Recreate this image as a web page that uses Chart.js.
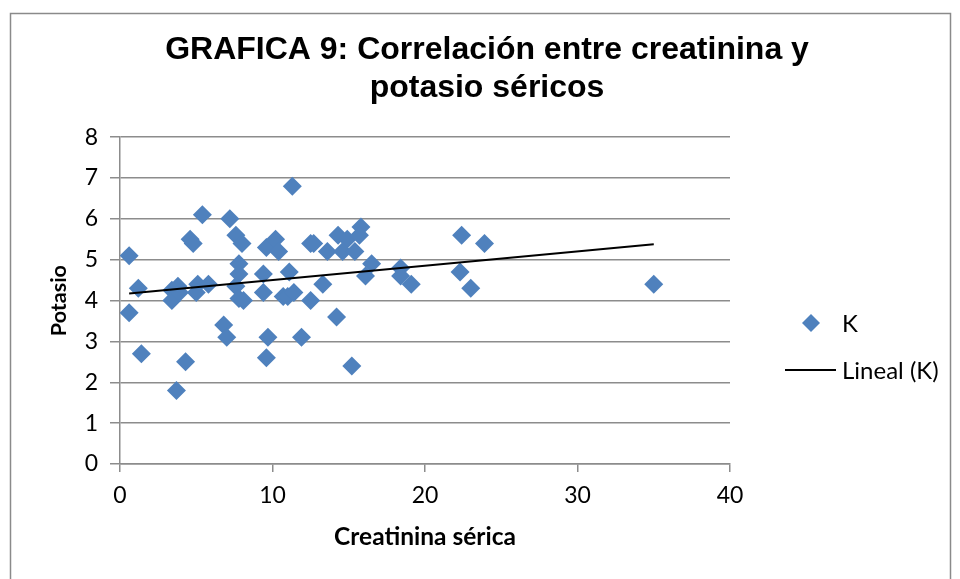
<!DOCTYPE html>
<html>
<head>
<meta charset="utf-8">
<script src="https://cdn.jsdelivr.net/npm/chart.js@4.4.0/dist/chart.umd.min.js"></script>
<style>
html,body{margin:0;padding:0;background:#fff;}
#wrap{width:960px;height:579px;position:relative;}
</style>
</head>
<body>
<div id="wrap"><canvas id="c" width="960" height="579"></canvas></div>
<script>
const titleLines = ["GRAFICA 9: Correlación entre creatinina y", "potasio séricos"];
const xTitle = "Creatinina sérica";
const yTitle = "Potasio";
const seriesName = "K";
const trendName = "Lineal (K)";
const xTicks = [0, 10, 20, 30, 40];
const yTicks = [0, 1, 2, 3, 4, 5, 6, 7, 8];

const creatinina = [0.6,0.6,1.2,1.4,3.7,4.3,4.6,4.8,5.4,7.2,7.6,8.0,7.8,7.8,7.6,7.8,8.1,3.4,3.8,3.4,3.9,5.1,5.0,5.8,6.8,7.0,9.4,9.4,9.6,10.2,10.4,11.1,10.7,11.0,11.4,9.7,9.6,11.3,12.5,12.7,12.5,13.3,13.6,14.2,11.9,15.2,14.3,14.9,14.6,15.4,15.8,15.7,16.5,16.1,18.4,18.4,19.1,22.4,23.9,22.3,23.0,35.0];
const potasio    = [5.1,3.7,4.3,2.7,1.8,2.5,5.5,5.4,6.1,6.0,5.6,5.4,4.9,4.65,4.35,4.05,4.0,4.25,4.35,4.0,4.2,4.4,4.2,4.4,3.4,3.1,4.65,4.2,5.3,5.5,5.2,4.7,4.1,4.1,4.2,3.1,2.6,6.8,5.4,5.4,4.0,4.4,5.2,3.6,3.1,2.4,5.6,5.5,5.2,5.2,5.8,5.6,4.9,4.6,4.8,4.6,4.4,5.6,5.4,4.7,4.3,4.4];

// least squares trend line (Excel "Lineal")
const n = creatinina.length;
const mx = creatinina.reduce((a,b)=>a+b,0)/n;
const my = potasio.reduce((a,b)=>a+b,0)/n;
let sxy = 0, sxx = 0;
for (let i=0;i<n;i++){ sxy += (creatinina[i]-mx)*(potasio[i]-my); sxx += (creatinina[i]-mx)**2; }
const slope = sxy/sxx, intercept = my - slope*mx;
const xMin = Math.min(...creatinina), xMax = Math.max(...creatinina);
const trend = [{x:xMin, y:intercept+slope*xMin},{x:xMax, y:intercept+slope*xMax}];

const blue = "#4F81BD";
const gridCol = "#8c8c8c";

const frame = {
  id:'frame',
  beforeDraw(chart){
    const c = chart.ctx;
    c.save();
    c.fillStyle = '#fff';
    c.fillRect(0,0,chart.width,chart.height);
    c.strokeStyle = '#8a8a8a';
    c.lineWidth = 1.5;
    c.strokeRect(10.5,13.5,940,600);
    c.restore();
  },
  afterDraw(chart){
    const c = chart.ctx;
    c.save();
    const ds0 = chart.data.datasets[0], ds1 = chart.data.datasets[1];
    c.fillStyle = blue;
    c.beginPath();
    c.moveTo(811,314); c.lineTo(820,323); c.lineTo(811,332); c.lineTo(802,323); c.closePath();
    c.fill();
    c.strokeStyle = '#000'; c.lineWidth = 2;
    c.beginPath(); c.moveTo(785,370); c.lineTo(836,370); c.stroke();
    c.fillStyle = '#000';
    c.font = '24px Lato';
    c.textBaseline = 'middle';
    c.fillText(ds0.label, 842, 324);
    c.fillText(ds1.label, 842, 371);
    c.restore();
  }
};

new Chart(document.getElementById('c'), {
  type:'scatter',
  data:{
    datasets:[
      {label:seriesName, data:creatinina.map((x,i)=>({x, y:potasio[i]})),
       pointStyle:'rectRot', pointRadius:9.5, pointHoverRadius:9.5,
       backgroundColor:blue, borderColor:blue, borderWidth:0, order:2},
      {label:trendName, type:'line', data:trend, borderColor:'#000', borderWidth:2,
       pointRadius:0, fill:false, showLine:true, order:1}
    ]
  },
  options:{
    responsive:false, animation:false,
    devicePixelRatio:1,
    layout:{padding:{left:14, right:0, top:0, bottom:0}},
    plugins:{
      legend:{display:false},
      tooltip:{enabled:false},
      title:{display:true, text:titleLines, color:'#000',
        font:{family:'Liberation Sans', size:32, weight:'bold', lineHeight:1.19},
        padding:{top:31, bottom:30}}
    },
    scales:{
      x:{type:'linear', min:0, max:40,
        afterBuildTicks(s){ s.ticks = xTicks.map(v=>({value:v})); },
        afterFit(s){ s.height = 115; },
        grid:{display:true, drawOnChartArea:false, drawTicks:true, tickLength:8, color:gridCol, lineWidth:1.5},
        border:{color:gridCol, width:1.5},
        ticks:{color:'#000', font:{family:'Lato', size:23}, padding:10},
        title:{display:true, text:xTitle, color:'#000', font:{family:'Lato', size:24.5, weight:'bold'}, padding:{top:0,bottom:27}}
      },
      y:{type:'linear', min:0, max:8, position:'left',
        afterBuildTicks(s){ s.ticks = yTicks.map(v=>({value:v})); },
        afterFit(s){ s.width = 106; },
        grid:{color:gridCol, lineWidth:1.5, tickLength:10},
        border:{color:gridCol, width:1.5},
        ticks:{color:'#000', font:{family:'Lato', size:23}, padding:12},
        title:{display:true, text:yTitle, color:'#000', font:{family:'Lato', size:21.5, weight:'bold'}, padding:{top:32,bottom:0}}
      },
      legendSpace:{type:'linear', position:'right', display:true,
        afterFit(s){ s.width = 230; },
        grid:{display:false, drawTicks:false}, border:{display:false},
        ticks:{display:false}}
    }
  },
  plugins:[frame]
});
</script>
</body>
</html>
